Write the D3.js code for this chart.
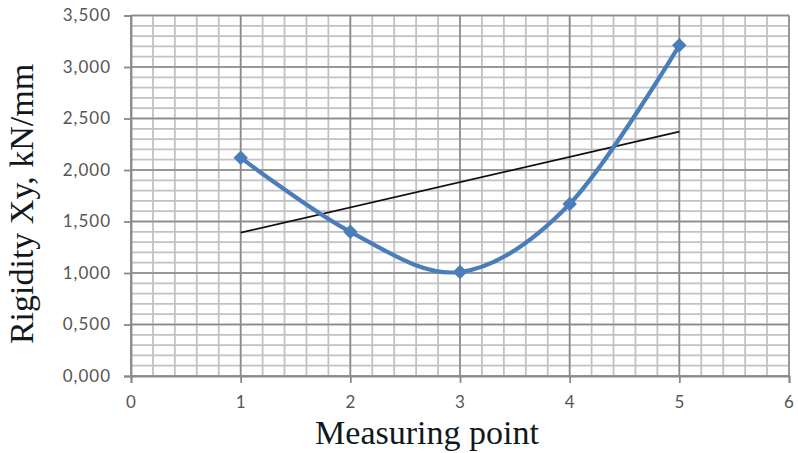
<!DOCTYPE html>
<html><head><meta charset="utf-8">
<script src="https://cdn.jsdelivr.net/npm/d3@7"></script>
<style>body{margin:0;background:#fff}svg{display:block}</style>
</head><body>
<svg id="c" width="798" height="453"></svg>
<script>
const measuringPoints = [1, 2, 3, 4, 5];
const rigidity = [2.12, 1.40, 1.01, 1.67, 3.21];
const xTicks = [0, 1, 2, 3, 4, 5, 6];
const yTicks = [0, 0.5, 1.0, 1.5, 2.0, 2.5, 3.0, 3.5];
const xTitle = "Measuring point";
const yTitle = "Rigidity Xy, kN/mm";

const svg = d3.select("#c");
const x = d3.scaleLinear().domain([0, 6]).range([131, 789]);
const y = d3.scaleLinear().domain([0, 3.5]).range([376, 15.5]);

const loc = d3.formatLocale({decimal: ",", thousands: " ", grouping: [3], currency: ["", ""]});
const fmt = loc.format(".3f");

// minor grid
const g = svg.append("g");
const xMinor = d3.range(0, 6.0001, 0.2);
const yMinor = d3.range(0, 3.5001, 0.1);
g.selectAll(".vm").data(xMinor).join("line")
  .attr("x1", d => x(d)).attr("x2", d => x(d)).attr("y1", y(0)).attr("y2", y(3.5))
  .attr("stroke", "#c2c2c2").attr("stroke-width", 1.8);
g.selectAll(".hm").data(yMinor).join("line")
  .attr("x1", x(0)).attr("x2", x(6)).attr("y1", d => y(d)).attr("y2", d => y(d))
  .attr("stroke", "#c2c2c2").attr("stroke-width", 1.8);
// major grid
g.selectAll(".vM").data(xTicks).join("line")
  .attr("x1", d => x(d)).attr("x2", d => x(d)).attr("y1", y(0)).attr("y2", y(3.5))
  .attr("stroke", "#8a8a8a").attr("stroke-width", 1.6);
g.selectAll(".hM").data(yTicks).join("line")
  .attr("x1", x(0)).attr("x2", x(6)).attr("y1", d => y(d)).attr("y2", d => y(d))
  .attr("stroke", "#8a8a8a").attr("stroke-width", 1.6);

// axes
const xAxis = svg.append("g").attr("transform", `translate(0,${y(0)})`)
  .call(d3.axisBottom(x).tickValues(xTicks).tickSize(7).tickPadding(13).tickFormat(d3.format("d")));
const yAxis = svg.append("g").attr("transform", `translate(${x(0)},0)`)
  .call(d3.axisLeft(y).tickValues(yTicks).tickSize(7).tickPadding(13).tickFormat(fmt));
[xAxis, yAxis].forEach(a => {
  a.select(".domain").attr("stroke", "#8a8a8a").attr("stroke-width", 1.8);
  a.selectAll(".tick line").attr("stroke", "#8a8a8a").attr("stroke-width", 1.8);
  a.selectAll("text").attr("fill", "#555").attr("font-family", "Lato, 'Open Sans', sans-serif")
    .attr("font-size", 17).attr("letter-spacing", 1);
});

// trend line (linear least squares fit of the series)
const n = measuringPoints.length;
const mx = d3.mean(measuringPoints), my = d3.mean(rigidity);
const slope = d3.sum(measuringPoints.map((d, i) => (d - mx) * (rigidity[i] - my))) /
              d3.sum(measuringPoints.map(d => (d - mx) ** 2));
const icpt = my - slope * mx;
const trendX = [measuringPoints[0], measuringPoints[n - 1]];
svg.append("line")
  .attr("x1", x(trendX[0])).attr("y1", y(icpt + slope * trendX[0]))
  .attr("x2", x(trendX[1])).attr("y2", y(icpt + slope * trendX[1]))
  .attr("stroke", "#111").attr("stroke-width", 1.7);

// series
const pts = measuringPoints.map((d, i) => [d, rigidity[i]]);
svg.append("path").datum(pts)
  .attr("d", d3.line().x(d => x(d[0])).y(d => y(d[1])).curve(d3.curveCatmullRom.alpha(0)))
  .attr("fill", "none").attr("stroke", "#4a7ebb").attr("stroke-width", 4.2);
svg.selectAll(".mk").data(pts).join("path")
  .attr("d", d3.symbol(d3.symbolSquare, 105))
  .attr("transform", d => `translate(${x(d[0])},${y(d[1])}) rotate(45)`)
  .attr("fill", "#4a7ebb");

// titles
svg.append("text").attr("x", 427).attr("y", 444).attr("text-anchor", "middle")
  .attr("font-family", "'Liberation Serif', 'Times New Roman', serif").attr("font-size", 34)
  .attr("fill", "#101820").text(xTitle);
svg.append("text").attr("transform", "translate(33,204) rotate(-90)").attr("text-anchor", "middle")
  .attr("font-family", "'Liberation Serif', 'Times New Roman', serif").attr("font-size", 34)
  .attr("fill", "#101820").text(yTitle);
</script>
</body></html>
